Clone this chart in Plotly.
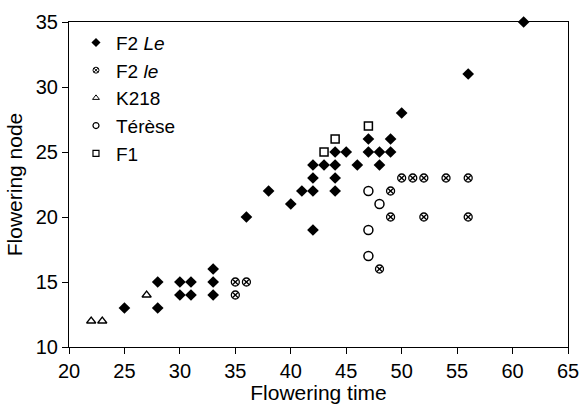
import plotly.graph_objects as go

# F2 Le (filled diamonds)
le_x = [25, 28, 28, 30, 30, 31, 31, 33, 33, 33, 36, 38, 40, 41, 42, 42, 42, 42, 43, 44, 44, 44, 44, 45, 46, 47, 47, 48, 48, 49, 49, 50, 56, 61]
le_y = [13, 15, 13, 15, 14, 15, 14, 16, 15, 14, 20, 22, 21, 22, 22, 23, 24, 19, 24, 25, 24, 23, 22, 25, 24, 26, 25, 25, 24, 26, 25, 28, 31, 35]
# F2 le (crossed circles)
lo_x = [35, 35, 36, 48, 49, 49, 50, 51, 52, 52, 54, 56, 56]
lo_y = [15, 14, 15, 16, 22, 20, 23, 23, 23, 20, 23, 23, 20]
# K218
k_x = [22, 23, 27]
k_y = [12, 12, 14]
# Térèse
t_x = [47, 47, 47, 48]
t_y = [22, 19, 17, 21]
# F1
f_x = [43, 44, 47]
f_y = [25, 26, 27]

names = ["F2 <i>Le</i>", "F2 <i>le</i>", "K218", "Térèse", "F1"]
FONT = "Liberation Sans, Arial, sans-serif"

styles = [
    dict(symbol="diamond", size=9, color="black"),
    dict(symbol="circle-x-open", size=8, color="black", line=dict(width=1.3)),
    dict(symbol="triangle-up-open", size=8, color="black", line=dict(width=1.3)),
    dict(symbol="circle-open", size=9, color="black", line=dict(width=1.5)),
    dict(symbol="square-open", size=8, color="black", line=dict(width=1.5)),
]
legend_styles = [
    dict(symbol="diamond", size=7, color="black"),
    dict(symbol="circle-x-open", size=6, color="black", line=dict(width=1)),
    dict(symbol="triangle-up-open", size=6, color="black", line=dict(width=1)),
    dict(symbol="circle-open", size=6, color="black", line=dict(width=1.2)),
    dict(symbol="square-open", size=6, color="black", line=dict(width=1.2)),
]
series = [(le_x, le_y), (lo_x, lo_y), (k_x, k_y), (t_x, t_y), (f_x, f_y)]

fig = go.Figure()
for (xs, ys), nm, st in zip(series, names, styles):
    fig.add_trace(go.Scatter(x=xs, y=ys, mode="markers", name=nm, showlegend=False,
                             marker=st, cliponaxis=False))
for nm, st in zip(names, legend_styles):
    fig.add_trace(go.Scatter(x=[None], y=[None], mode="markers", name=nm, marker=st))

axis_common = dict(showgrid=False, zeroline=False, showline=True, linecolor="black", linewidth=1.2,
                   mirror=True, ticks="outside", ticklen=6, tickcolor="black", automargin=False,
                   tickfont=dict(family=FONT, size=20, color="black"))

fig.update_layout(
    width=583, height=404,
    margin=dict(l=69, r=15, t=22, b=57),
    paper_bgcolor="white", plot_bgcolor="white",
    font=dict(family=FONT, color="black"),
    xaxis=dict(range=[20, 65], dtick=5,
               title=dict(text="Flowering time", font=dict(size=21), standoff=0), **axis_common),
    yaxis=dict(range=[10, 35], dtick=5,
               title=dict(text="Flowering node", font=dict(size=21), standoff=7), **axis_common),
    legend=dict(x=0.014, y=0.995, xanchor="left", yanchor="top", bgcolor="rgba(0,0,0,0)",
                font=dict(family=FONT, size=19, color="black"), itemwidth=30, tracegroupgap=0),
    showlegend=True,
)

fig.write_html("out.html", config={"displayModeBar": False},
               post_script="document.body.style.margin='0px';")
